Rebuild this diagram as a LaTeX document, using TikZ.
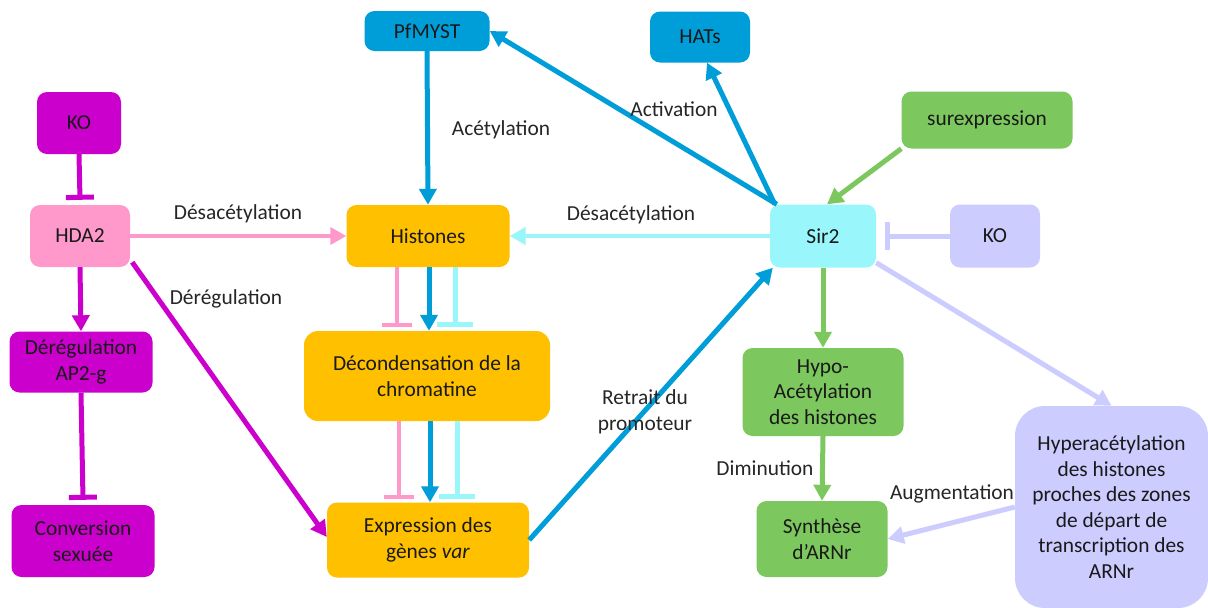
\documentclass[tikz,border=0pt]{standalone}
\usepackage{fontspec}
\setmainfont{Carlito}
\usetikzlibrary{arrows.meta}
\definecolor{cmag}{RGB}{204,0,204}
\definecolor{cpink}{RGB}{255,153,204}
\definecolor{cblue}{RGB}{0,158,217}
\definecolor{corange}{RGB}{255,192,0}
\definecolor{ccyan}{RGB}{153,247,252}
\definecolor{clav}{RGB}{204,204,255}
\definecolor{cgreen}{RGB}{125,200,94}
\begin{document}
\begin{tikzpicture}[x=1pt,y=-1pt,
  font=\fontsize{21.4}{25.6}\selectfont,
  box/.style={rounded corners=10pt, inner sep=0pt, align=center, text=black!90},
  arr/.style={line width=5pt, -{Triangle[length=16pt,width=17pt]}},
  inh/.style={line width=5pt, -{Bar[width=28pt]}},
  lbl/.style={text=black!85, inner sep=0pt, align=center}]
\useasboundingbox (0,0) rectangle (1208,608);
\fill[white] (0,0) rectangle (1208,608);

% nodes
\node[box, fill=cmag, minimum width=84pt, minimum height=62pt] (ko1) at (79,123) {KO};
\node[box, fill=cpink, minimum width=100pt, minimum height=62pt] (hda) at (80,236) {HDA2};
\node[box, fill=cmag, minimum width=143pt, minimum height=61pt] (ap2) at (81,362) {Dérégulation\\AP2-g};
\node[box, fill=cmag, minimum width=143pt, minimum height=72pt] (conv) at (83,541) {Conversion\\sexuée};
\node[box, fill=cblue, minimum width=125pt, minimum height=40pt] (myst) at (427,31) {PfMYST};
\node[box, fill=cblue, minimum width=100pt, minimum height=51pt] (hats) at (700,37) {HATs};
\node[box, fill=corange, minimum width=163pt, minimum height=62pt] (hist) at (428,236) {Histones};
\node[box, fill=corange, minimum width=246pt, minimum height=90pt, rounded corners=14pt] (decond) at (427,376) {Décondensation de la\\chromatine};
\node[box, fill=corange, minimum width=202pt, minimum height=75pt] (expr) at (428,540) {Expression des\\gènes \textit{var}};
\node[box, fill=ccyan, minimum width=106pt, minimum height=63pt] (sir) at (823,236) {Sir2};
\node[box, fill=clav, minimum width=90pt, minimum height=63pt] (ko2) at (995,236) {KO};
\node[box, fill=cgreen, minimum width=171pt, minimum height=57pt] (surex) at (987,120) {surexpression};
\node[box, fill=cgreen, minimum width=161pt, minimum height=88pt] (hypo) at (823,392) {Hypo-\\Acétylation\\des histones};
\node[box, fill=cgreen, minimum width=131pt, minimum height=76pt] (synth) at (822,539) {Synthèse\\d’ARNr};
\node[box, fill=clav, minimum width=193pt, minimum height=202pt, rounded corners=30pt] (hyper) at (1111.5,507) {Hyperacétylation\\des histones\\proches des zones\\de départ de\\transcription des\\ARNr};

% left side
\draw[inh, cmag] (ko1.south) -- ([yshift=5pt]hda.north);
\draw[arr, cpink, line width=4pt] (hda.east) -- (hist.west);
\draw[arr, cmag] (hda.south) -- (ap2.north);
\draw[inh, cmag] (ap2.south) -- ([yshift=5pt]conv.north);
\draw[arr, cmag] ([xshift=2pt,yshift=5pt]hda.south east) -- ([yshift=3pt]expr.west);

% top
\draw[arr, cblue] (myst.south) -- (hist.north);
\draw[arr, cblue] ([xshift=7pt]sir.north west) -- (myst.east);
\draw[arr, cblue] ([xshift=5pt]sir.north west) -- ([xshift=7pt]hats.south);
\draw[arr, cgreen] (surex.south west) -- ([xshift=4pt]sir.north);
\draw[arr, ccyan, line width=4pt] (sir.west) -- (hist.east);
\draw[inh, clav] (ko2.west) -- ([xshift=9pt]sir.east);

% centre column
\draw[inh, cpink, line width=4pt, -{Bar[width=30pt]}] ([xshift=-31pt]hist.south) -- ([xshift=-30pt,yshift=4pt]decond.north);
\draw[arr, cblue] ([xshift=1pt]hist.south) -- ([xshift=2pt]decond.north);
\draw[inh, ccyan, -{Bar[width=36pt]}] ([xshift=27pt]hist.south) -- ([xshift=28pt,yshift=4pt]decond.north);
\draw[inh, cpink, line width=4pt, -{Bar[width=30pt]}] ([xshift=-28pt]decond.south) -- ([xshift=-29pt,yshift=3pt]expr.north);
\draw[arr, cblue] ([xshift=3pt]decond.south) -- ([xshift=2pt]expr.north);
\draw[inh, ccyan, -{Bar[width=36pt]}] ([xshift=30pt]decond.south) -- ([xshift=29pt,yshift=3pt]expr.north);
\draw[arr, cblue] (expr.east) -- ([xshift=3pt]sir.south west);

% right side
\draw[arr, cgreen] (sir.south) -- (hypo.north);
\draw[arr, cgreen] (hypo.south) -- (synth.north);
\draw[arr, clav] ([yshift=5pt]sir.south east) -- (hyper.north);
\draw[arr, clav] (hyper.west) -- (synth.east);

% labels
\node[lbl] (l1) at (238,214) {Désacétylation};
\node[lbl] (l2) at (226,299) {Dérégulation};
\node[lbl] (l3) at (501,130) {Acétylation};
\node[lbl] (l4) at (674,109) {Activation};
\node[lbl] (l5) at (631,215) {Désacétylation};
\node[lbl] (l6) at (645,412) {Retrait du\\promoteur};
\node[lbl] (l7) at (765,468) {Diminution};
\node[lbl] (l8) at (952,494) {Augmentation};
\end{tikzpicture}
\end{document}
